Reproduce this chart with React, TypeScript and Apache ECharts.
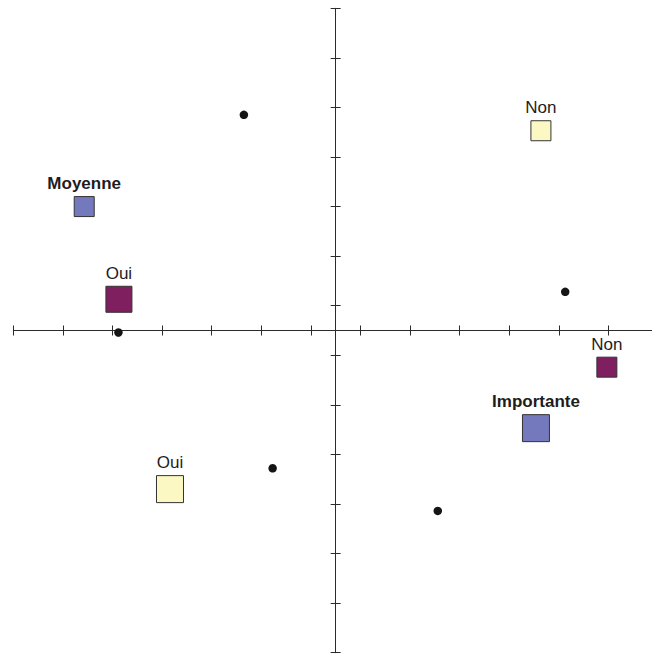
import React, { useEffect, useRef } from "react";
import * as echarts from "echarts";

// Tick positions (axis units)
const xTicks = [-6.5, -5.5, -4.5, -3.5, -2.5, -1.5, -0.5, 0.5, 1.5, 2.5, 3.5, 4.5, 5.5];
const yTicks = [-6.5, -5.5, -4.5, -3.5, -2.5, -1.5, -0.5, 0.5, 1.5, 2.5, 3.5, 4.5, 5.5, 6.5];

// Yellow group
const yellowNames = ["Non", "Oui"];
const yellowX = [4.14, -3.34];
const yellowY = [4.03, -3.2];
const yellowW = [20, 27];

// Purple group
const purpleNames = ["Oui", "Non"];
const purpleX = [-4.37, 5.47];
const purpleY = [0.63, -0.74];
const purpleW = [26, 20];

// Blue group
const blueNames = ["Moyenne", "Importante"];
const blueX = [-5.07, 4.04];
const blueY = [2.5, -1.97];
const blueW = [20, 27];

// Individuals (dots)
const dotX = [-1.85, 4.63, -4.38, -1.27, 2.06];
const dotY = [4.35, 0.78, -0.04, -2.78, -3.64];

const AXIS = "#2b2b2b";
const FONT = "'Liberation Sans', Arial, Helvetica, sans-serif";

function mk(names: string[], xs: number[], ys: number[], ws: number[]) {
  return names.map((n, i) => ({ name: n, value: [xs[i], ys[i], ws[i]] }));
}

export default function App() {
  const ref = useRef<HTMLDivElement>(null);
  useEffect(() => {
    if (!ref.current) return;
    const chart = echarts.init(ref.current, undefined, { renderer: "svg" });
    const baseX = {
      type: "value" as const,
      min: -6.5,
      max: 6.38,
      position: "bottom" as const,
      splitLine: { show: false },
      axisLabel: { show: false },
    };
    const baseY = {
      type: "value" as const,
      min: -6.5,
      max: 6.5,
      position: "left" as const,
      splitLine: { show: false },
      axisLabel: { show: false },
    };
    const labelBase = {
      show: true,
      position: "top" as const,
      distance: 4,
      formatter: "{b}",
      color: "#1f1c1d",
      fontSize: 17,
      fontFamily: FONT,
    };
    const squareSeries = (data: any[], color: string, bold: boolean) => ({
      type: "scatter" as const,
      xAxisIndex: 0,
      yAxisIndex: 0,
      symbol: "rect",
      symbolSize: (v: number[]) => v[2],
      data,
      itemStyle: { color, borderColor: "#333333", borderWidth: 1, opacity: 1 },
      label: { ...labelBase, fontWeight: bold ? "bold" : "normal" },
      emphasis: { disabled: true },
      z: 3,
    });
    chart.setOption({
      animation: false,
      backgroundColor: "#ffffff",
      grid: { left: 13.3, top: 8.3, width: 638.7, height: 644.4, containLabel: false },
      xAxis: [
        {
          ...baseX,
          axisLine: { show: true, onZero: true, onZeroAxisIndex: 0, lineStyle: { color: AXIS, width: 1 } },
          axisTick: { show: true, inside: false, length: 5, customValues: xTicks, lineStyle: { color: AXIS, width: 1 } },
        },
        {
          ...baseX,
          axisLine: { show: false, onZero: true, onZeroAxisIndex: 0 },
          axisTick: { show: true, inside: true, length: 5, customValues: xTicks, lineStyle: { color: AXIS, width: 1 } },
        },
      ],
      yAxis: [
        {
          ...baseY,
          axisLine: { show: true, onZero: true, onZeroAxisIndex: 0, lineStyle: { color: AXIS, width: 1 } },
          axisTick: { show: true, inside: false, length: 5, customValues: yTicks, lineStyle: { color: AXIS, width: 1 } },
        },
        {
          ...baseY,
          axisLine: { show: false, onZero: true, onZeroAxisIndex: 0 },
          axisTick: { show: true, inside: true, length: 5, customValues: yTicks, lineStyle: { color: AXIS, width: 1 } },
        },
      ],
      series: [
        squareSeries(mk(yellowNames, yellowX, yellowY, yellowW), "#fbf8c3", false),
        squareSeries(mk(purpleNames, purpleX, purpleY, purpleW), "#801f5f", false),
        squareSeries(mk(blueNames, blueX, blueY, blueW), "#7479bd", true),
        {
          type: "scatter",
          xAxisIndex: 0,
          yAxisIndex: 0,
          symbol: "circle",
          symbolSize: 8.5,
          data: dotX.map((x, i) => [x, dotY[i]]),
          itemStyle: { color: "#151515", opacity: 1 },
          emphasis: { disabled: true },
          z: 4,
        },
      ],
    });
    return () => chart.dispose();
  }, []);
  return (
    <div
      ref={ref}
      style={{ position: "fixed", left: 0, top: 0, width: 652, height: 655, background: "#fff" }}
    />
  );
}
